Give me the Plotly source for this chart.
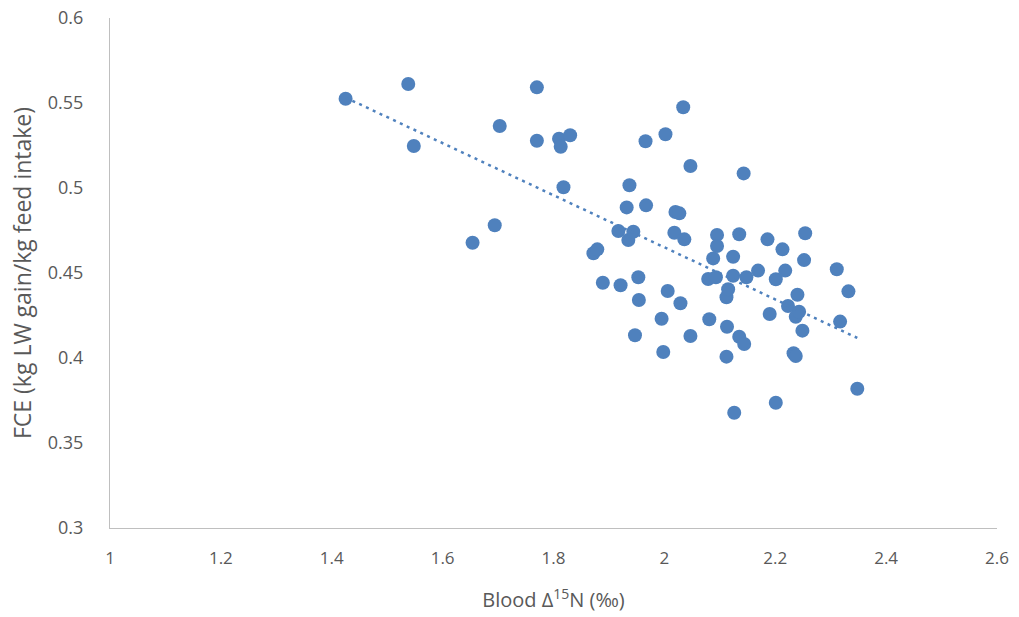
import plotly.graph_objects as go

blood_d15n = [1.425, 1.538, 1.548, 1.654, 1.694, 1.703, 1.770, 1.770, 1.810, 1.830,
              1.813, 1.818, 1.872, 1.879, 1.889, 1.917, 1.921, 1.932, 1.937, 1.935,
              1.944, 1.947, 1.953, 1.954, 1.966, 1.967, 1.995, 1.998, 2.002, 2.006,
              2.018, 2.020, 2.027, 2.029, 2.034, 2.036, 2.047, 2.047, 2.079, 2.081,
              2.088, 2.093, 2.095, 2.095, 2.112, 2.112, 2.113, 2.115, 2.124, 2.124,
              2.126, 2.135, 2.135, 2.143, 2.144, 2.148, 2.169, 2.186, 2.190, 2.201,
              2.201, 2.213, 2.218, 2.223, 2.233, 2.237, 2.237, 2.240, 2.243, 2.249,
              2.252, 2.254, 2.311, 2.317, 2.332, 2.348]
fce = [0.5525, 0.5612, 0.5247, 0.4678, 0.4781, 0.5365, 0.5592, 0.5278, 0.5290, 0.5310,
       0.5243, 0.5004, 0.4616, 0.4639, 0.4443, 0.4747, 0.4428, 0.4886, 0.5016, 0.4694,
       0.4743, 0.4134, 0.4475, 0.4341, 0.5275, 0.4898, 0.4231, 0.4035, 0.5316, 0.4394,
       0.4737, 0.4859, 0.4851, 0.4322, 0.5475, 0.4698, 0.4129, 0.5129, 0.4465, 0.4228,
       0.4586, 0.4475, 0.4724, 0.4659, 0.4008, 0.4357, 0.4184, 0.4404, 0.4596, 0.4484,
       0.3678, 0.4728, 0.4125, 0.5086, 0.4082, 0.4475, 0.4514, 0.4698, 0.4259, 0.4463,
       0.3737, 0.4639, 0.4514, 0.4306, 0.4028, 0.4012, 0.4243, 0.4372, 0.4272, 0.4161,
       0.4576, 0.4734, 0.4522, 0.4214, 0.4392, 0.3819]

trend_slope = -0.1532
trend_intercept = 0.7715

x_tick_vals = [1, 1.2, 1.4, 1.6, 1.8, 2, 2.2, 2.4, 2.6]
x_tick_text = ["1", "1.2", "1.4", "1.6", "1.8", "2", "2.2", "2.4", "2.6"]
y_tick_vals = [0.3, 0.35, 0.4, 0.45, 0.5, 0.55, 0.6]
y_tick_text = ["0.3", "0.35", "0.4", "0.45", "0.5", "0.55", "0.6"]

blue = "#4F81BD"
grey_text = "#595959"

trend_x = [min(blood_d15n), max(blood_d15n)]
trend_y = [trend_intercept + trend_slope * v for v in trend_x]

fig = go.Figure()
fig.add_trace(go.Scatter(
    x=blood_d15n, y=fce, mode="markers",
    marker=dict(size=14, color=blue, line=dict(width=0)),
    showlegend=False,
))
fig.add_trace(go.Scatter(
    x=trend_x, y=trend_y, mode="lines",
    line=dict(color=blue, width=2.5, dash="3px,4.5px"),
    showlegend=False,
))

fig.update_layout(
    width=1019, height=617,
    margin=dict(l=110, r=22, t=18, b=89, autoexpand=False),
    paper_bgcolor="white", plot_bgcolor="white",
    font=dict(family="Open Sans", color=grey_text, size=17),
    xaxis=dict(
        range=[1, 2.6], tickvals=x_tick_vals, ticktext=x_tick_text,
        showgrid=False, zeroline=False, showline=True, linecolor="#BFBFBF", linewidth=1,
        ticks="", ticklabelstandoff=15,
        tickfont=dict(family="Open Sans", size=17, color=grey_text),
        title=dict(text="Blood Δ<sup>15</sup>N (‰)", standoff=24,
                   font=dict(family="Open Sans", size=20, color=grey_text)),
    ),
    yaxis=dict(
        range=[0.3, 0.6], tickvals=y_tick_vals, ticktext=y_tick_text,
        showgrid=False, zeroline=False, showline=True, linecolor="#BFBFBF", linewidth=1,
        ticks="", ticklabelstandoff=22,
        tickfont=dict(family="Open Sans", size=18, color=grey_text),
        title=dict(text="FCE (kg LW gain/kg feed intake)", standoff=9,
                   font=dict(family="Open Sans", size=23, color=grey_text)),
    ),
)

fig.write_html("out.html")
